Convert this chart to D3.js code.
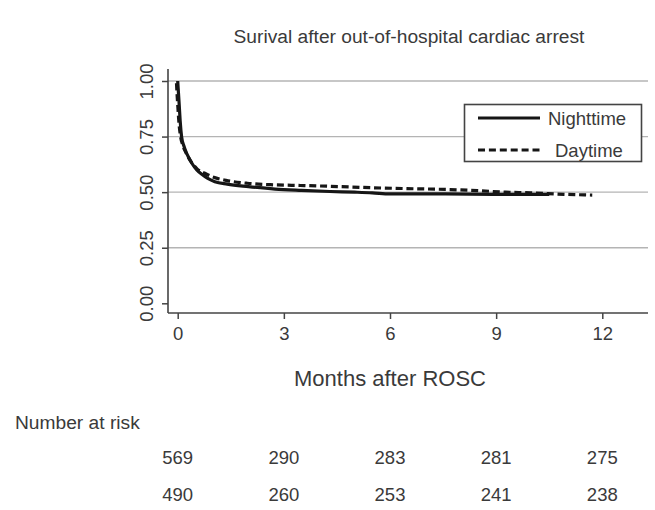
<!DOCTYPE html>
<html>
<head>
<meta charset="utf-8">
<script src="https://cdn.jsdelivr.net/npm/d3@7"></script>
<style>
  html, body { margin: 0; padding: 0; background: #fff; }
  svg { display: block; }
  text { font-family: "Liberation Sans", Arial, Helvetica, sans-serif; fill: #3a3a3a; }
</style>
</head>
<body>
<script>
// ---- data ----
const nightMonths = [0, 0.02, 0.04, 0.07, 0.11, 0.18, 0.26, 0.4, 0.54, 0.7, 0.85, 1.05, 1.4, 2.0, 2.75, 3.5, 4.3, 5.0, 5.5, 6.0, 7.5, 9.0, 10.5];
const nightSurv   = [1.0, 0.95, 0.9, 0.82, 0.75, 0.705, 0.672, 0.63, 0.6, 0.578, 0.562, 0.547, 0.536, 0.525, 0.514, 0.508, 0.503, 0.5, 0.497, 0.492, 0.492, 0.49, 0.49];
const dayMonths = [0, 0.02, 0.04, 0.07, 0.11, 0.18, 0.26, 0.4, 0.58, 0.8, 1.05, 1.4, 2.0, 2.75, 3.5, 4.6, 5.5, 6.5, 7.4, 8.5, 9.3, 10.0, 11.0, 11.75];
const daySurv   = [0.99, 0.93, 0.88, 0.81, 0.755, 0.71, 0.68, 0.64, 0.605, 0.585, 0.567, 0.553, 0.54, 0.533, 0.53, 0.525, 0.52, 0.516, 0.513, 0.507, 0.5, 0.497, 0.49, 0.487];
const seriesNames = ["Nighttime", "Daytime"];
const xTicks = [0, 3, 6, 9, 12];
const yTicks = [0, 0.25, 0.5, 0.75, 1.0];
const gridValues = [0.25, 0.5, 0.75, 1.0];
const riskTimes = [0, 3, 6, 9, 12];
const riskNight = [569, 290, 283, 281, 275];
const riskDay   = [490, 260, 253, 241, 238];
const titleText = "Surival after out-of-hospital cardiac arrest";
const xTitle = "Months after ROSC";
const riskTitle = "Number at risk";

// ---- layout ----
const W = 655, H = 510;
const svg = d3.select("body").append("svg").attr("width", W).attr("height", H);

const x = d3.scaleLinear().domain([0, 12]).range([177.7, 602.3]);
const y = d3.scaleLinear().domain([0, 1]).range([303.3, 81]);
const axX = 168, axY = 313, plotRight = 648, plotTop = 69;

// gridlines
svg.append("g").selectAll("line").data(gridValues).join("line")
  .attr("x1", axX).attr("x2", plotRight)
  .attr("y1", d => y(d)).attr("y2", d => y(d))
  .attr("stroke", "#b4b4b4").attr("stroke-width", 1.3);

// y axis
const yAxis = svg.append("g").attr("transform", `translate(${axX},0)`)
  .call(d3.axisLeft(y).tickValues(yTicks).tickFormat(d3.format(".2f")).tickSize(6).tickPadding(0));
yAxis.select(".domain").remove();
yAxis.selectAll(".tick line").attr("stroke", "#444").attr("stroke-width", 1.5);
yAxis.selectAll(".tick text")
  .attr("transform", "translate(-15,0) rotate(-90)")
  .attr("x", 0).attr("y", 0).attr("dy", 0)
  .attr("text-anchor", "middle")
  .style("font-size", "18.5px").style("fill", "#3a3a3a");

// x axis
const xAxis = svg.append("g").attr("transform", `translate(0,${axY})`)
  .call(d3.axisBottom(x).tickValues(xTicks).tickSize(6).tickPadding(8));
xAxis.select(".domain").remove();
xAxis.selectAll(".tick line").attr("stroke", "#444").attr("stroke-width", 1.5);
xAxis.selectAll(".tick text").style("font-size", "18.5px").style("fill", "#3a3a3a");

// axis lines
svg.append("line").attr("x1", axX).attr("x2", axX).attr("y1", plotTop).attr("y2", axY)
  .attr("stroke", "#444").attr("stroke-width", 1.6);
svg.append("line").attr("x1", axX).attr("x2", plotRight).attr("y1", axY).attr("y2", axY)
  .attr("stroke", "#444").attr("stroke-width", 1.6);

// curves
const line = d3.line().x(d => x(d[0])).y(d => y(d[1])).curve(d3.curveMonotoneX);
const nightData = nightMonths.map((m, i) => [m, nightSurv[i]]);
const dayData = dayMonths.map((m, i) => [m, daySurv[i]]);

svg.append("path").datum(dayData).attr("d", line)
  .attr("fill", "none").attr("stroke", "#161616").attr("stroke-width", 3.2)
  .attr("transform", "translate(-1.2,0)")
  .attr("stroke-dasharray", "7,3.8");
svg.append("path").datum(nightData).attr("d", line)
  .attr("fill", "none").attr("stroke", "#161616").attr("stroke-width", 3.2);

// legend
const lg = svg.append("g");
lg.append("rect").attr("x", 464.5).attr("y", 104.5).attr("width", 177).attr("height", 57)
  .attr("fill", "#fff").attr("stroke", "#444").attr("stroke-width", 1.6);
const legendRows = [
  { name: seriesNames[0], dash: null, ly: 118, ty: 124.5, tx: 548 },
  { name: seriesNames[1], dash: "7,3.9", ly: 150, ty: 156.5, tx: 555 }
];
legendRows.forEach(r => {
  lg.append("line").attr("x1", 478).attr("x2", 540).attr("y1", r.ly).attr("y2", r.ly)
    .attr("stroke", "#161616").attr("stroke-width", 3.2)
    .attr("stroke-dasharray", r.dash);
  lg.append("text").attr("x", r.tx).attr("y", r.ty).text(r.name)
    .style("font-size", "18.5px");
});

// titles
svg.append("text").attr("x", 409).attr("y", 43).attr("text-anchor", "middle")
  .style("font-size", "19.2px").text(titleText);
svg.append("text").attr("x", 390).attr("y", 386).attr("text-anchor", "middle")
  .style("font-size", "22px").text(xTitle);

// number at risk
svg.append("text").attr("x", 15).attr("y", 429).style("font-size", "19.2px").text(riskTitle);
[riskNight, riskDay].forEach((row, k) => {
  svg.append("g").selectAll("text").data(row).join("text")
    .attr("x", (d, i) => x(riskTimes[i])).attr("y", k === 0 ? 464 : 501)
    .attr("text-anchor", "middle").style("font-size", "18.5px")
    .text(d => d);
});
</script>
</body>
</html>
